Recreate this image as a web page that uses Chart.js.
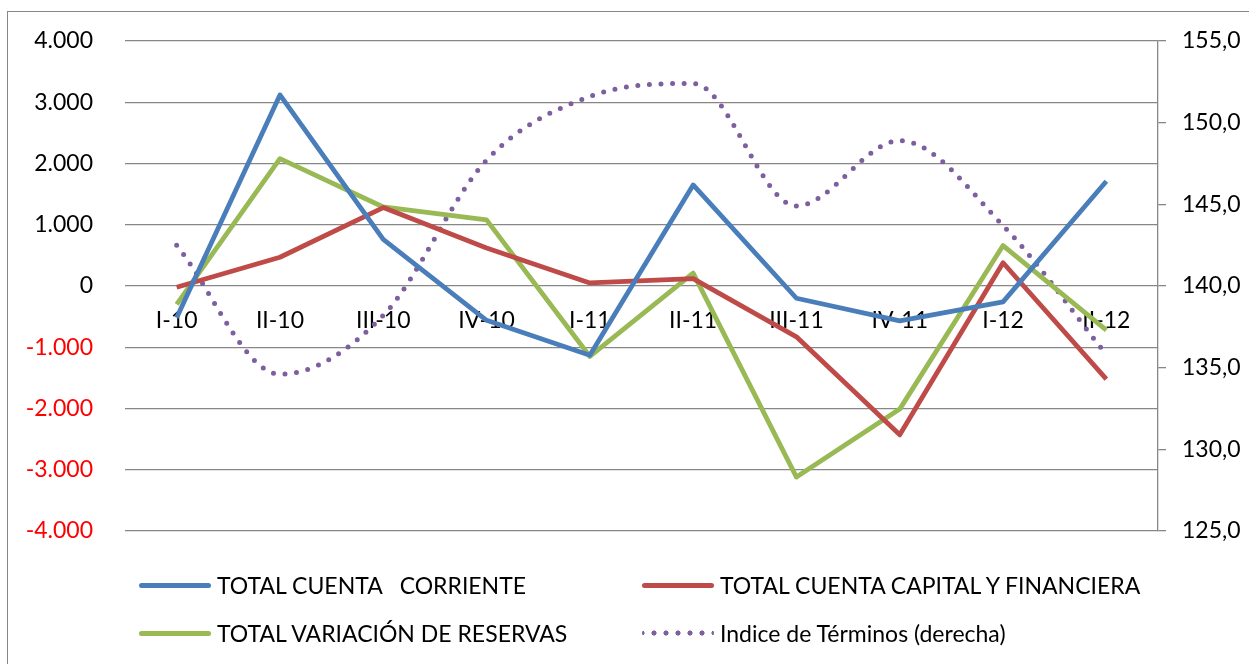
<!DOCTYPE html>
<html>
<head>
<meta charset="utf-8">
<script src="https://cdn.jsdelivr.net/npm/chart.js@4.4.1/dist/chart.umd.min.js"></script>
<style>
  html, body { margin: 0; padding: 0; background: #fff; overflow: hidden; }
  #wrap { position: relative; width: 1249px; height: 664px; overflow: hidden; }
  #frame { position: absolute; left: 7px; top: 11px; width: 1300px; height: 700px; border: 1px solid #878787; }
  canvas { position: absolute; left: 0; top: 0; }
  .leg { position: absolute; height: 30px; display: flex; align-items: center; font-family: Lato, sans-serif; font-size: 23px; color: #000; white-space: pre; }
  .leg .sample { width: 72px; height: 5px; border-radius: 3px; margin-right: 6px; }
</style>
</head>
<body>
<div id="wrap">
  <div id="frame"></div>
  <canvas id="chart" width="1249" height="664"></canvas>
</div>
<script>
const quarters = ['I-10', 'II-10', 'III-10', 'IV-10', 'I-11', 'II-11', 'III-11', 'IV-11', 'I-12', 'II-12'];

const cuentaCorriente = [-520, 3120, 760, -560, -1130, 1650, -200, -570, -260, 1710];
const cuentaCapital = [-20, 470, 1280, 620, 50, 120, -830, -2430, 380, -1520];
const variacionReservas = [-300, 2080, 1290, 1080, -1150, 210, -3120, -2010, 660, -720];
const terminos = [142.5, 134.6, 138.2, 147.7, 151.6, 152.4, 144.9, 148.9, 143.7, 135.8];

const leftTicks = [-4000, 4000, 1000];   // min, max, step
const rightTicks = [125, 155, 5];

const FONT = { family: 'Lato', size: 23 };
const GRID = '#878787';

function miles(v) {
  const s = Math.abs(v).toString().replace(/\B(?=(\d{3})+(?!\d))/g, '.');
  return (v < 0 ? '-' : '') + s;
}

const chart = new Chart(document.getElementById('chart'), {
  type: 'line',
  data: {
    labels: quarters,
    datasets: [
      { label: 'TOTAL CUENTA   CORRIENTE', data: cuentaCorriente, borderColor: '#4A7EBB', yAxisID: 'y' },
      { label: 'TOTAL CUENTA CAPITAL Y FINANCIERA', data: cuentaCapital, borderColor: '#BE4B48', yAxisID: 'y' },
      { label: 'TOTAL VARIACIÓN DE RESERVAS', data: variacionReservas, borderColor: '#98B954', yAxisID: 'y' },
      { label: 'Indice de Términos (derecha)', data: terminos, borderColor: '#7D5FA0', yAxisID: 'y1',
        borderWidth: 5, borderDash: [0, 11.6], borderCapStyle: 'round', cubicInterpolationMode: 'monotone' }
    ]
  },
  options: {
    responsive: false,
    animation: false,
    devicePixelRatio: 1,
    layout: { padding: { left: 0, right: 0, top: 41, bottom: 133 } },
    elements: {
      point: { radius: 0 },
      line: { borderWidth: 4.8, borderJoinStyle: 'round', fill: false }
    },
    plugins: { legend: { display: false }, tooltip: { enabled: false } },
    scales: {
      x: {
        position: { y: 0 },
        offset: true,
        grid: { display: false, drawTicks: false },
        border: { display: false },
        ticks: { font: FONT, color: '#000', padding: 21, maxRotation: 0, autoSkip: false }
      },
      y: {
        position: 'left',
        min: leftTicks[0], max: leftTicks[1],
        ticks: {
          stepSize: leftTicks[2], font: FONT, padding: 4,
          color: c => c.tick.value < 0 ? '#FF0000' : '#000',
          callback: v => miles(v)
        },
        // invisible tick marks push the labels away from the plot
        grid: { color: GRID, lineWidth: 1.3, drawTicks: true, tickLength: 28, tickColor: 'rgba(0,0,0,0)' },
        border: { display: false },
        afterFit: s => { s.width = 125; }
      },
      y1: {
        position: 'right',
        min: rightTicks[0], max: rightTicks[1],
        ticks: {
          stepSize: rightTicks[2], font: FONT, color: '#000', padding: 16,
          callback: v => v.toFixed(1).replace('.', ',')
        },
        grid: { drawOnChartArea: false, drawTicks: true, tickLength: 8, color: GRID, lineWidth: 1.3 },
        border: { display: true, color: GRID, width: 1.3 },
        afterFit: s => { s.width = 91; }
      }
    }
  }
});

// legend in two aligned columns, built from the datasets
const legPos = [[139, 570], [642, 570], [139, 618], [642, 618]];
chart.data.datasets.forEach((ds, i) => {
  const item = document.createElement('div');
  item.className = 'leg';
  item.style.left = legPos[i][0] + 'px';
  item.style.top = legPos[i][1] + 'px';
  const sample = document.createElement('div');
  sample.className = 'sample';
  if (ds.borderDash) {
    sample.style.height = '6px';
    sample.style.backgroundImage = 'radial-gradient(circle, ' + ds.borderColor + ' 2.3px, transparent 2.8px)';
    sample.style.backgroundSize = '12px 6px';
    sample.style.backgroundPosition = '-6px 0';
  } else {
    sample.style.background = ds.borderColor;
  }
  const txt = document.createElement('span');
  txt.textContent = ds.label;
  item.appendChild(sample);
  item.appendChild(txt);
  document.getElementById('wrap').appendChild(item);
});
</script>
</body>
</html>
